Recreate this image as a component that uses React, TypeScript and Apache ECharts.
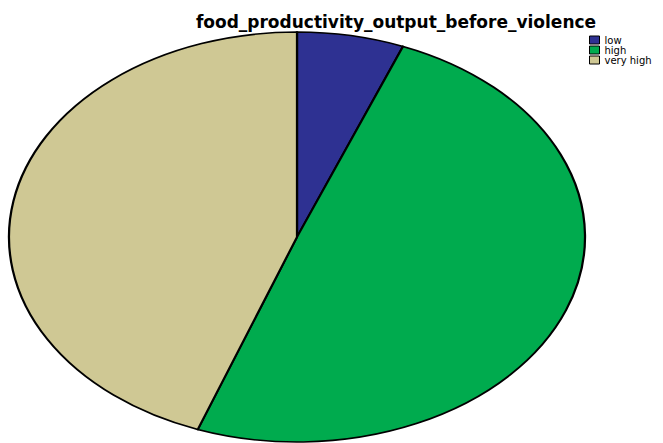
import React, { useEffect, useRef } from "react";
import * as echarts from "echarts";

const categories = ["low", "high", "very high"];
const values = [6, 49.6, 44.4];
const colors = ["#2E3192", "#00AB4E", "#CFC894"];
const titleText = "food_productivity_output_before_violence";

export default function App() {
  const ref = useRef<HTMLDivElement>(null);
  useEffect(() => {
    if (!ref.current) return;
    const chart = echarts.init(ref.current, null, { renderer: "svg" });
    const total = values.reduce((a, b) => a + b, 0);
    const cx = 297, cy = 237, rx = 288, ry = 205;
    const series = categories.map((name, i) => ({
      type: "custom" as const,
      name,
      coordinateSystem: "none",
      color: colors[i],
      data: [values[i]],
      renderItem: (params: any, api: any) => {
        const before = values.slice(0, i).reduce((a, b) => a + b, 0);
        const v = api.value(0);
        const start = -Math.PI / 2 + (before / total) * Math.PI * 2;
        const end = start + (v / total) * Math.PI * 2;
        return {
          type: "sector",
          x: cx,
          y: cy,
          scaleX: rx / ry,
          scaleY: 1,
          shape: { cx: 0, cy: 0, r: ry, r0: 0, startAngle: start, endAngle: end, clockwise: true },
          style: { fill: colors[i], stroke: "#000", lineWidth: 1.6, strokeNoScale: true },
        };
      },
    }));
    chart.setOption({
      animation: false,
      backgroundColor: "#fff",
      title: {
        text: titleText,
        left: 391,
        textAlign: "center",
        top: 8,
        textStyle: { fontFamily: "DejaVu Sans, sans-serif", fontWeight: "bold", fontSize: 17, color: "#000" },
      },
      legend: {
        orient: "vertical",
        left: 589,
        top: 35,
        padding: 0,
        itemGap: 0,
        itemWidth: 10,
        itemHeight: 8,
        itemTextGap: 4,
        icon: "rect",
        data: categories.map((c, i) => ({ name: c, itemStyle: { color: colors[i], borderColor: "#000", borderWidth: 1 } })),
        textStyle: { fontFamily: "DejaVu Sans, sans-serif", fontSize: 10, lineHeight: 9, color: "#000" },
      },
      series,
    });
    return () => chart.dispose();
  }, []);
  return <div ref={ref} style={{ width: 663, height: 443, position: "absolute", left: 0, top: 0 }} />;
}
